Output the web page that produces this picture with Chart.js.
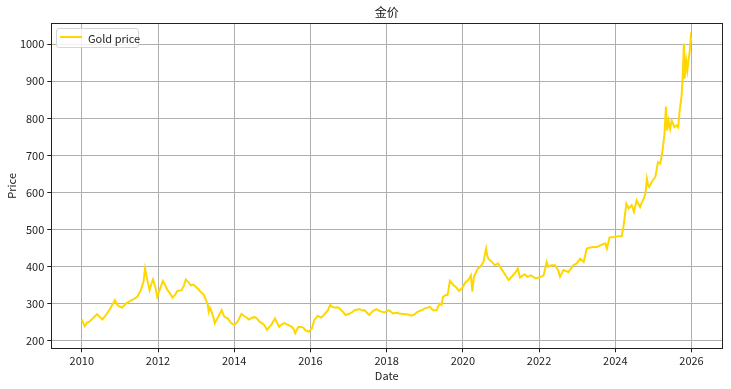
<!DOCTYPE html>
<html>
<head>
<meta charset="utf-8">
<title>金价</title>
<script src="https://cdn.jsdelivr.net/npm/chart.js@4.4.1/dist/chart.umd.min.js"></script>
<style>
  body { margin: 0; background: #fff; }
  #wrap { position: relative; width: 731px; height: 389px; }
  #legend {
    position: absolute; left: 56px; top: 28px; width: 83px; height: 20px;
    box-sizing: border-box; border: 1px solid #d6d6d6; border-radius: 3px;
    background: rgba(255, 255, 255, 0.8);
    font: 11px "Noto Sans CJK SC", sans-serif;
    color: #222; white-space: nowrap;
  }
  #legend .swatch { position: absolute; left: 3px; top: 7px; width: 22px; height: 2px; background: #FFD700; }
  #legend .label { position: absolute; left: 31px; top: 1px; line-height: 16px; }
</style>
</head>
<body>
<div id="wrap">
  <canvas id="goldChart" width="731" height="389"></canvas>
  <div id="legend"><span class="swatch"></span><span class="label">Gold price</span></div>
</div>
<script>
// values (decimal year, price)
const dates = [
  2010.00, 2010.04, 2010.08, 2010.14, 2010.20, 2010.30, 2010.40, 2010.47, 2010.54, 2010.65,
  2010.75, 2010.87, 2010.92, 2010.97, 2011.06, 2011.15, 2011.24, 2011.35, 2011.46, 2011.55,
  2011.62, 2011.66, 2011.69, 2011.72, 2011.78, 2011.83, 2011.87, 2011.93, 2011.98, 2012.05,
  2012.13, 2012.19, 2012.25, 2012.32, 2012.38, 2012.45, 2012.51, 2012.62, 2012.68, 2012.73,
  2012.80, 2012.86, 2012.93, 2012.99, 2013.06, 2013.12, 2013.20, 2013.26, 2013.30, 2013.33,
  2013.36, 2013.39, 2013.45, 2013.49, 2013.56, 2013.67, 2013.74, 2013.83, 2013.91, 2014.00,
  2014.09, 2014.19, 2014.25, 2014.31, 2014.39, 2014.46, 2014.53, 2014.60, 2014.66, 2014.73,
  2014.79, 2014.86, 2014.92, 2014.97, 2015.07, 2015.12, 2015.18, 2015.25, 2015.32, 2015.42,
  2015.51, 2015.56, 2015.60, 2015.64, 2015.68, 2015.77, 2015.82, 2015.86, 2015.95, 2016.00,
  2016.04, 2016.10, 2016.19, 2016.28, 2016.37, 2016.46, 2016.52, 2016.57, 2016.63, 2016.70,
  2016.76, 2016.85, 2016.92, 2017.03, 2017.10, 2017.16, 2017.29, 2017.36, 2017.42, 2017.54,
  2017.64, 2017.73, 2017.80, 2017.86, 2017.95, 2018.06, 2018.17, 2018.25, 2018.34, 2018.43,
  2018.52, 2018.60, 2018.65, 2018.74, 2018.80, 2018.87, 2018.94, 2019.00, 2019.07, 2019.13,
  2019.22, 2019.31, 2019.39, 2019.44, 2019.48, 2019.55, 2019.60, 2019.66, 2019.75, 2019.83,
  2019.90, 2019.99, 2020.06, 2020.14, 2020.21, 2020.25, 2020.29, 2020.39, 2020.47, 2020.54,
  2020.61, 2020.64, 2020.67, 2020.76, 2020.84, 2020.92, 2021.02, 2021.09, 2021.20, 2021.28,
  2021.39, 2021.44, 2021.50, 2021.62, 2021.70, 2021.79, 2021.90, 2022.00, 2022.12, 2022.20,
  2022.24, 2022.33, 2022.42, 2022.50, 2022.55, 2022.64, 2022.77, 2022.90, 2022.99, 2023.08,
  2023.17, 2023.25, 2023.34, 2023.43, 2023.52, 2023.61, 2023.74, 2023.78, 2023.85, 2023.96,
  2024.09, 2024.17, 2024.22, 2024.29, 2024.35, 2024.43, 2024.49, 2024.56, 2024.65, 2024.70,
  2024.75, 2024.79, 2024.83, 2024.86, 2024.89, 2024.96, 2025.05, 2025.12, 2025.18, 2025.24,
  2025.29, 2025.33, 2025.36, 2025.40, 2025.44, 2025.48, 2025.55, 2025.61, 2025.65, 2025.69,
  2025.74, 2025.77, 2025.80, 2025.82, 2025.86, 2025.89, 2025.92, 2025.95, 2025.98, 2026.00
];
const prices = [
  258, 248, 240, 250, 252, 262, 272, 265, 258, 272,
  288, 310, 300, 294, 290, 300, 306, 312, 319, 337,
  360, 395, 380, 364, 337, 355, 366, 345, 319, 340,
  362, 350, 337, 328, 317, 325, 335, 337, 350, 366,
  358, 350, 352, 346, 340, 332, 325, 310, 300, 279,
  290, 283, 265, 248, 261, 283, 265, 261, 249, 243,
  252, 273, 268, 264, 258, 262, 265, 260, 252, 248,
  243, 230, 238, 243, 261, 250, 238, 245, 248, 243,
  238, 232, 221, 230, 238, 238, 235, 230, 225, 230,
  234, 256, 268, 263, 272, 283, 297, 292, 290, 291,
  288, 279, 270, 274, 278, 283, 286, 282, 283, 270,
  281, 286, 282, 279, 277, 283, 274, 276, 274, 273,
  272, 270, 268, 272, 278, 281, 284, 288, 290, 292,
  283, 283, 301, 297, 319, 324, 324, 362, 351, 344,
  335, 344, 357, 364, 377, 333, 373, 395, 402, 413,
  449, 430, 422, 413, 404, 409, 393, 382, 364, 373,
  386, 395, 371, 380, 373, 377, 369, 371, 377, 413,
  400, 404, 404, 391, 373, 391, 386, 404, 409, 422,
  413, 449, 452, 453, 453, 458, 463, 449, 479, 480,
  482, 482, 512, 570, 557, 566, 548, 579, 561, 575,
  584, 597, 637, 620, 615, 629, 642, 682, 678, 713,
  758, 832, 767, 794, 772, 794, 776, 781, 776, 821,
  861, 915, 1001, 907, 955, 929, 957, 978, 1016, 1005
];
const xTicks = [2010, 2012, 2014, 2016, 2018, 2020, 2022, 2024, 2026];
const yTicks = [200, 300, 400, 500, 600, 700, 800, 900, 1000];

const FONT = '"Noto Sans CJK SC", sans-serif';

// matplotlib draws a full box round the axes
const frame = {
  id: 'frame',
  afterDraw(chart) {
    const { ctx, chartArea: a } = chart;
    ctx.save();
    ctx.strokeStyle = '#222';
    ctx.lineWidth = 1;
    ctx.strokeRect(Math.round(a.left) + 0.5, Math.round(a.top) + 0.5,
      Math.round(a.right - a.left), Math.round(a.bottom - a.top));
    ctx.restore();
  }
};

const ctx = document.getElementById('goldChart').getContext('2d');
new Chart(ctx, {
  type: 'line',
  data: {
    datasets: [{
      label: 'Gold price',
      data: dates.map((d, i) => ({ x: d, y: prices[i] })),
      borderColor: '#FFD700',
      borderWidth: 2,
      pointRadius: 0,
      tension: 0,
      fill: false
    }]
  },
  options: {
    responsive: false,
    animation: false,
    devicePixelRatio: 1,
    layout: { padding: { left: 0, right: 9, top: 0, bottom: 0 } },
    plugins: {
      legend: { display: false },
      tooltip: { enabled: false },
      title: {
        display: true,
        text: '金价',
        fullSize: false,
        color: '#111',
        font: { family: FONT, size: 12, weight: 'normal' },
        padding: { top: 5, bottom: 4 }
      }
    },
    scales: {
      x: {
        type: 'linear',
        min: 2009.2,
        max: 2026.8,
        afterBuildTicks: s => { s.ticks = xTicks.map(v => ({ value: v })); },
        afterFit: s => { s.height = 40.7; },
        ticks: {
          color: '#222',
          padding: 2,
          font: { family: FONT, size: 11 },
          callback: v => String(v)
        },
        grid: { color: '#b0b0b0', lineWidth: 1, tickLength: 4, tickColor: '#222' },
        border: { color: '#222', width: 1 },
        title: {
          display: true, text: 'Date', color: '#222',
          font: { family: FONT, size: 11 },
          padding: { top: 0, bottom: 7 }
        }
      },
      y: {
        type: 'linear',
        min: 180.3,
        max: 1055.8,
        afterBuildTicks: s => { s.ticks = yTicks.map(v => ({ value: v })); },
        afterFit: s => { s.width = 51.3; },
        ticks: {
          color: '#222',
          padding: 3,
          font: { family: FONT, size: 11 },
          callback: v => String(v)
        },
        grid: { color: '#b0b0b0', lineWidth: 1, tickLength: 4, tickColor: '#222' },
        border: { color: '#222', width: 1 },
        title: {
          display: true, text: 'Price', color: '#222',
          font: { family: FONT, size: 11 },
          padding: { top: 5, bottom: 0 }
        }
      }
    }
  },
  plugins: [frame]
});
</script>
</body>
</html>
